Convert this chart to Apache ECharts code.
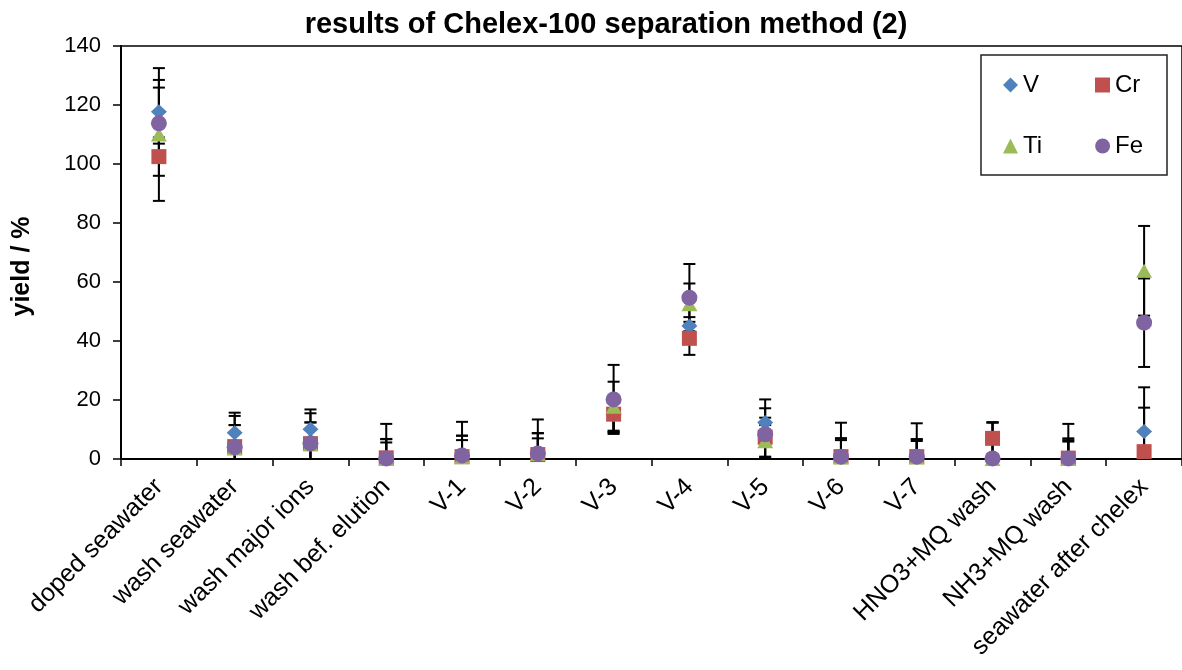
<!DOCTYPE html>
<html>
<head>
<meta charset="utf-8">
<script src="https://cdn.jsdelivr.net/npm/echarts@6/dist/echarts.min.js"></script>
<style>
  html, body { margin: 0; padding: 0; background: #fff; }
  #chart { width: 1182px; height: 670px; }
</style>
</head>
<body>
<div id="chart"></div>
<script>
// Fractions of the procedure
const categories = ['doped seawater', 'wash seawater', 'wash major ions', 'wash bef. elution',
  'V-1', 'V-2', 'V-3', 'V-4', 'V-5', 'V-6', 'V-7', 'HNO3+MQ wash', 'NH3+MQ wash', 'seawater after chelex'];

// Yield (%) per element and its uncertainty
const vYield  = [117.7, 8.9, 10.1, 0.3, 1.0, 1.8, 15.0, 45.1, 12.4, 0.6, 0.6, 0.3, 0.2, 9.3];
const vErr    = [10.8, 6.8, 6.7, 6.5, 6.9, 7.0, 6.0, 3.0, 7.8, 6.4, 6.1, 12.1, 6.2, 15.0];
const crYield = [102.5, 4.2, 5.2, 0.4, 0.8, 1.5, 15.2, 40.9, 7.4, 0.8, 0.8, 7.0, 0.3, 2.5];
const crErr   = [6.5, 10.4, 10.3, 5.2, 5.6, 7.2, 5.6, 5.6, 6.6, 5.6, 5.3, 5.4, 6.7, 14.9];
const tiYield = [110.0, 3.6, 5.0, 0.0, 0.6, 1.7, 17.7, 52.5, 6.0, 0.5, 0.5, 0.0, 0.0, 63.8];
const tiErr   = [22.5, 7.9, 7.4, 11.9, 12.0, 11.7, 8.5, 7.0, 5.5, 11.8, 11.6, 12.4, 11.9, 15.2];
const feYield = [113.8, 4.0, 5.3, 0.2, 1.2, 1.9, 20.2, 54.7, 8.4, 0.8, 0.8, 0.2, 0.2, 46.2];
const feErr   = [12.1, 7.5, 7.1, 6.5, 6.7, 5.1, 11.7, 11.4, 8.8, 6.2, 5.9, 0.3, 5.7, 15.0];

const yTicks = { min: 0, max: 140, interval: 20 };

const elements = [
  { name: 'V',  values: vYield,  errors: vErr,  color: '#4F81BD', symbol: 'diamond',  size: [16, 15] },
  { name: 'Cr', values: crYield, errors: crErr, color: '#C0504D', symbol: 'rect',     size: [15, 15] },
  { name: 'Ti', values: tiYield, errors: tiErr, color: '#9BBB59', symbol: 'triangle', size: [16, 14] },
  { name: 'Fe', values: feYield, errors: feErr, color: '#8064A2', symbol: 'circle',   size: [16, 16] }
];

const FONT = 'Liberation Sans, Arial, sans-serif';

// Error bars: vertical whisker with caps, lower end clamped at the axis
function renderErrorBar(params, api) {
  const idx = api.value(0);
  const lo = api.value(1);
  const hi = api.value(2);
  const top = api.coord([idx, hi]);
  const bottom = api.coord([idx, Math.max(lo, 0)]);
  const half = 6;
  const style = { stroke: '#000', lineWidth: 2 };
  const children = [
    { type: 'line', shape: { x1: top[0], y1: top[1], x2: bottom[0], y2: bottom[1] }, style },
    { type: 'line', shape: { x1: top[0] - half, y1: top[1], x2: top[0] + half, y2: top[1] }, style }
  ];
  if (lo >= 0) {
    children.push({ type: 'line', shape: { x1: bottom[0] - half, y1: bottom[1], x2: bottom[0] + half, y2: bottom[1] }, style });
  }
  return { type: 'group', children };
}

const errorSeries = elements.map(el => ({
  type: 'custom',
  name: el.name + ' error',
  renderItem: renderErrorBar,
  encode: { x: 0, y: [1, 2] },
  data: el.values.map((v, i) => [i, v - el.errors[i], v + el.errors[i]]),
  z: 2,
  silent: true
}));

const pointSeries = elements.map((el, k) => ({
  type: 'scatter',
  name: el.name,
  data: el.values,
  symbol: el.symbol,
  symbolSize: el.size,
  itemStyle: { color: el.color, opacity: 1 },
  z: 3 + k
}));

const legendText = { fontFamily: FONT, fontSize: 24, color: '#000' };

const chart = echarts.init(document.getElementById('chart'), null, { renderer: 'canvas' });
chart.setOption({
  backgroundColor: '#fff',
  animation: false,
  title: {
    text: 'results of Chelex-100 separation method (2)',
    left: 601,
    textAlign: 'center',
    top: 5,
    textStyle: { fontFamily: FONT, fontSize: 29, fontWeight: 'bold', color: '#000' }
  },
  legend: [
    {
      data: [{ name: 'V', icon: 'diamond' }, { name: 'Cr', icon: 'rect' }],
      left: 998, top: 68, itemWidth: 15, itemHeight: 15, itemGap: 56,
      textStyle: legendText, selectedMode: false
    },
    {
      data: [{ name: 'Ti', icon: 'triangle' }, { name: 'Fe', icon: 'circle' }],
      left: 998, top: 129, itemWidth: 15, itemHeight: 15, itemGap: 53,
      textStyle: legendText, selectedMode: false
    }
  ],
  graphic: [{
    type: 'rect',
    shape: { x: 981, y: 55, width: 186, height: 120 },
    style: { fill: 'none', stroke: '#222', lineWidth: 1.5 },
    z: 10
  }],
  grid: {
    left: 121, width: 1065, top: 46, bottom: 211,
    show: true, borderColor: '#000', borderWidth: 1.5, containLabel: false
  },
  xAxis: {
    type: 'category',
    data: categories,
    boundaryGap: true,
    axisLine: { lineStyle: { color: '#000', width: 2 } },
    axisTick: { show: true, length: 7, lineStyle: { color: '#000', width: 1.5 } },
    axisLabel: { rotate: 45, interval: 0, margin: 24, fontFamily: FONT, fontSize: 25, color: '#000' },
    splitLine: { show: false }
  },
  yAxis: {
    type: 'value',
    min: yTicks.min, max: yTicks.max, interval: yTicks.interval,
    name: 'yield / %',
    nameLocation: 'middle',
    nameGap: 86,
    nameRotate: 90,
    nameTextStyle: { fontFamily: FONT, fontSize: 25, fontWeight: 'bold', color: '#000', padding: [0, 28, 0, 0] },
    axisLine: { show: true, lineStyle: { color: '#000', width: 2 } },
    axisTick: { show: true, length: 8, lineStyle: { color: '#000', width: 1.5 } },
    axisLabel: { margin: 20, fontFamily: FONT, fontSize: 22, color: '#000' },
    splitLine: { show: false }
  },
  series: [...errorSeries, ...pointSeries]
});
</script>
</body>
</html>
